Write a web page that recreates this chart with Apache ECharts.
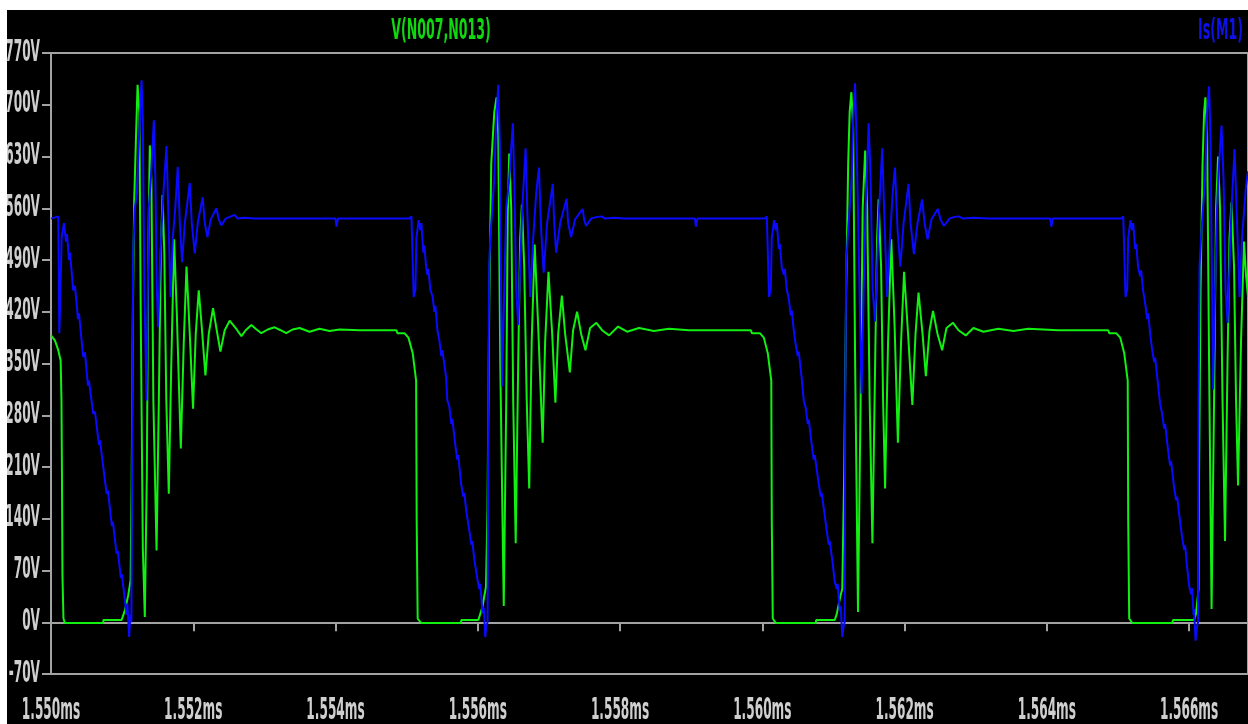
<!DOCTYPE html>
<html>
<head>
<meta charset="utf-8">
<script src="https://cdn.jsdelivr.net/npm/echarts@6/dist/echarts.min.js"></script>
<style>
  html, body { margin: 0; padding: 0; background: #ffffff; width: 1248px; height: 724px; overflow: hidden; }
  #chart { position: absolute; left: 7px; top: 10px; width: 1241px; height: 714px; }
</style>
</head>
<body>
<div id="chart"></div>
<script>
// Trace names
const traceNames = ['V(N007,N013)', 'Is(M1)'];

// Axis ticks (time in microseconds, voltage in volts) and their labels
const xTickValues = [1550, 1552, 1554, 1556, 1558, 1560, 1562, 1564, 1566];
const xTickLabels = ['1.550ms', '1.552ms', '1.554ms', '1.556ms', '1.558ms', '1.560ms', '1.562ms', '1.564ms', '1.566ms'];
const yTickValues = [-70, 0, 70, 140, 210, 280, 350, 420, 490, 560, 630, 700, 770];
const yTickLabels = ['-70V', '0V', '70V', '140V', '210V', '280V', '350V', '420V', '490V', '560V', '630V', '700V', '770V'];

// V(N007,N013): time (us) and value (V)
const vNodeTime = [
  1550.000, 1550.056, 1550.102, 1550.136, 1550.147, 1550.154, 1550.161, 1550.175, 1550.196, 1550.734,
  1550.737, 1550.992, 1551.039, 1551.085, 1551.119, 1551.133, 1551.151, 1551.169, 1551.193, 1551.217,
  1551.242, 1551.263, 1551.291, 1551.319, 1551.347, 1551.368, 1551.389, 1551.411, 1551.439, 1551.484,
  1551.516, 1551.544, 1551.568, 1551.593, 1551.621, 1551.656, 1551.691, 1551.731, 1551.768, 1551.825,
  1551.867, 1551.905, 1551.951, 1551.997, 1552.035, 1552.077, 1552.119, 1552.171, 1552.218, 1552.278,
  1552.330, 1552.382, 1552.442, 1552.512, 1552.596, 1552.677, 1552.737, 1552.817, 1552.877, 1552.957,
  1553.046, 1553.144, 1553.228, 1553.308, 1553.396, 1553.495, 1553.635, 1553.775, 1553.916, 1554.056,
  1554.337, 1554.856, 1554.870, 1554.968, 1555.025, 1555.085, 1555.133, 1555.141, 1555.155, 1555.203,
  1555.764, 1555.768, 1556.007, 1556.063, 1556.115,
  1556.136, 1556.161, 1556.189, 1556.232, 1556.264, 1556.288, 1556.316, 1556.365, 1556.400, 1556.421,
  1556.442, 1556.470, 1556.498, 1556.533, 1556.568, 1556.596, 1556.620, 1556.653, 1556.688, 1556.723,
  1556.758, 1556.800, 1556.849, 1556.912, 1556.947, 1556.994, 1557.046, 1557.091, 1557.130, 1557.182,
  1557.228, 1557.294, 1557.340, 1557.396, 1557.453, 1557.514, 1557.579, 1557.667, 1557.747, 1557.846,
  1557.972, 1558.098, 1558.267, 1558.477, 1558.688, 1558.968, 1559.839, 1559.853, 1559.965, 1560.021,
  1560.077, 1560.126, 1560.133, 1560.147, 1560.189, 1560.751, 1560.758, 1561.018, 1561.046, 1561.099,
  1561.124,
  1561.151, 1561.179, 1561.207, 1561.228, 1561.252, 1561.277, 1561.305, 1561.345, 1561.382, 1561.411,
  1561.446, 1561.474, 1561.509, 1561.548, 1561.586, 1561.614, 1561.635, 1561.670, 1561.698, 1561.726,
  1561.768, 1561.813, 1561.860, 1561.906, 1561.951, 1561.993, 1562.049, 1562.109, 1562.154, 1562.196,
  1562.253, 1562.299, 1562.351, 1562.400, 1562.463, 1562.528, 1562.589, 1562.681, 1562.758, 1562.860,
  1562.968, 1563.109, 1563.319, 1563.530, 1563.740, 1564.161, 1564.863, 1564.877, 1564.975, 1565.032,
  1565.088, 1565.137, 1565.144, 1565.158, 1565.200, 1565.761, 1565.775, 1566.070, 1566.098, 1566.133,
  1566.140, 1566.161, 1566.189, 1566.211, 1566.229, 1566.253, 1566.281, 1566.316, 1566.351, 1566.379,
  1566.407, 1566.435, 1566.470, 1566.505, 1566.540, 1566.568, 1566.596, 1566.632, 1566.660, 1566.688,
  1566.730, 1566.772, 1566.800, 1566.828
];
const vNodeVolt = [
  388, 381, 368, 354, 300, 200, 64, 5, -1, -1,
  3, 3, 16, 36, 57, 180, 420, 568, 650, 727,
  690, 400, 100, 7, 200, 500, 645, 600, 300, 97,
  300, 500, 578, 500, 300, 174, 350, 518, 420, 235,
  380, 481, 390, 289, 390, 449, 400, 334, 390, 425,
  395, 366, 395, 408, 398, 387, 395, 402, 397, 391,
  396, 399, 395, 391, 396, 398, 393, 397, 394, 396,
  395, 395, 391, 391, 385, 364, 327, 138, 5, -1,
  -1, 3, 3, 20, 48,
  150, 430, 620, 690, 710, 660, 350, 22, 300, 550,
  634, 560, 300, 107, 350, 520, 565, 480, 300, 181,
  380, 511, 400, 243, 380, 474, 390, 297, 390, 442,
  390, 338, 395, 420, 390, 368, 398, 405, 395, 388,
  400, 393, 398, 394, 397, 395, 395, 391, 391, 385,
  364, 327, 138, 5, -1, -1, 3, 3, 11, 36,
  45,
  200, 450, 620, 690, 717, 670, 350, 14, 300, 560,
  638, 560, 300, 107, 350, 520, 572, 480, 300, 181,
  380, 518, 400, 243, 380, 474, 390, 294, 390, 446,
  390, 333, 395, 421, 390, 368, 398, 405, 395, 388,
  398, 393, 397, 394, 397, 395, 395, 391, 391, 385,
  364, 327, 138, 5, -1, -1, 3, 3, 12, 45,
  200, 450, 620, 690, 710, 660, 350, 18, 300, 560,
  630, 560, 300, 110, 350, 520, 568, 480, 300, 185,
  380, 515, 470, 440
];

// Is(M1): time (us) and value
const isTime = [
  1550.000, 1550.102, 1550.112, 1550.116, 1550.126, 1550.150, 1550.182, 1550.211, 1550.225, 1550.253,
  1550.267, 1550.313, 1550.337, 1550.379, 1550.393, 1550.453, 1550.477, 1550.519, 1550.533, 1550.594,
  1550.618, 1550.674, 1550.688, 1550.782, 1550.800, 1550.856, 1550.870, 1550.922, 1550.940, 1550.982,
  1550.996, 1551.039, 1551.060, 1551.074, 1551.099, 1551.116, 1551.130, 1551.144, 1551.155, 1551.179,
  1551.207, 1551.235, 1551.273, 1551.291, 1551.312, 1551.343, 1551.361, 1551.375, 1551.404, 1551.446,
  1551.467, 1551.488, 1551.506, 1551.530, 1551.558, 1551.586, 1551.624, 1551.642, 1551.680, 1551.712,
  1551.747, 1551.782, 1551.811, 1551.843, 1551.881, 1551.951, 1551.979, 1552.021, 1552.063, 1552.133,
  1552.161, 1552.199, 1552.246, 1552.326, 1552.358, 1552.396, 1552.456, 1552.582, 1552.625, 1552.723,
  1552.863, 1554.000, 1554.014, 1554.035, 1555.039, 1555.067, 1555.095, 1555.099, 1555.123, 1555.137,
  1555.169, 1555.193, 1555.207, 1555.235, 1555.249, 1555.273, 1555.291, 1555.305, 1555.333, 1555.366,
  1555.389, 1555.404, 1555.432, 1555.460, 1555.488, 1555.502, 1555.554, 1555.572, 1555.600, 1555.628,
  1555.642, 1555.684, 1555.712, 1555.726, 1555.764, 1555.796, 1555.811, 1555.839, 1555.881, 1555.909,
  1555.923, 1555.951, 1555.997, 1556.021, 1556.035, 1556.067, 1556.084, 1556.105, 1556.119, 1556.138,
  1556.147, 1556.161, 1556.175, 1556.204, 1556.232, 1556.260, 1556.288, 1556.309, 1556.340, 1556.372,
  1556.400, 1556.442, 1556.493, 1556.512, 1556.540, 1556.568, 1556.596, 1556.625, 1556.672, 1556.695,
  1556.737, 1556.779, 1556.821, 1556.860, 1556.891, 1556.926, 1556.975, 1557.054, 1557.074, 1557.102,
  1557.158, 1557.249, 1557.270, 1557.312, 1557.368, 1557.474, 1557.495, 1557.523, 1557.593, 1557.663,
  1557.743, 1557.789, 1557.916, 1558.056, 1559.053, 1559.067, 1559.088, 1560.035, 1560.063, 1560.091,
  1560.095, 1560.119, 1560.133, 1560.166,
  1560.189, 1560.204, 1560.232, 1560.246, 1560.274, 1560.302, 1560.316, 1560.344, 1560.372, 1560.400,
  1560.414, 1560.442, 1560.470, 1560.498, 1560.512, 1560.554, 1560.582, 1560.611, 1560.639, 1560.653,
  1560.695, 1560.723, 1560.737, 1560.793, 1560.821, 1560.835, 1560.877, 1560.905, 1560.933, 1560.947,
  1560.989, 1561.018, 1561.046, 1561.060, 1561.088, 1561.102, 1561.124, 1561.144, 1561.158, 1561.165,
  1561.179, 1561.200, 1561.228, 1561.256, 1561.277, 1561.304, 1561.326, 1561.395, 1561.425, 1561.453,
  1561.495, 1561.523, 1561.551, 1561.585, 1561.614, 1561.642, 1561.686, 1561.712, 1561.754, 1561.796,
  1561.832, 1561.865, 1561.902, 1561.941, 1561.986, 1562.056, 1562.084, 1562.131, 1562.182, 1562.247,
  1562.281, 1562.323, 1562.379, 1562.467, 1562.505, 1562.554, 1562.632, 1562.688, 1562.758, 1562.828,
  1562.968, 1563.179, 1564.049, 1564.063, 1564.084, 1565.046, 1565.074, 1565.102, 1565.106, 1565.130,
  1565.144, 1565.176,
  1565.200, 1565.214, 1565.242, 1565.256, 1565.284, 1565.312, 1565.326, 1565.354, 1565.382, 1565.411,
  1565.425, 1565.453, 1565.481, 1565.509, 1565.523, 1565.565, 1565.593, 1565.621, 1565.649, 1565.663,
  1565.705, 1565.733, 1565.747, 1565.789, 1565.818, 1565.832, 1565.874, 1565.902, 1565.930, 1565.944,
  1565.972, 1566.000, 1566.028, 1566.042, 1566.063, 1566.070, 1566.091, 1566.112, 1566.126, 1566.133,
  1566.147, 1566.168, 1566.196, 1566.225, 1566.253, 1566.281, 1566.302, 1566.337, 1566.365, 1566.393,
  1566.421, 1566.456, 1566.484, 1566.512, 1566.540, 1566.568, 1566.596, 1566.639, 1566.667, 1566.709,
  1566.744, 1566.800, 1566.828
];
const isValue = [
  546, 549, 460, 391, 420, 521, 540, 515, 525, 490,
  500, 449, 455, 410, 418, 359, 365, 320, 327, 282,
  285, 240, 246, 174, 178, 130, 136, 93, 96, 60,
  65, 30, 10, 25, -20, 10, 0, 300, 500, 560,
  580, 650, 733, 680, 450, 300, 450, 561, 600, 679,
  600, 450, 399, 480, 540, 590, 644, 580, 440, 520,
  560, 616, 540, 487, 540, 594, 540, 499, 540, 575,
  540, 521, 545, 560, 545, 537, 546, 551, 546, 547,
  546, 546, 535, 546, 546, 549, 548, 440, 450, 520,
  544, 530, 540, 500, 510, 481, 470, 478, 450, 440,
  420, 428, 395, 381, 360, 368, 332, 300, 292, 268,
  275, 240, 220, 226, 188, 170, 175, 150, 124, 105,
  110, 85, 57, 45, 52, 12, 20, -20, -5, 0,
  300, 480, 520, 560, 600, 680, 727, 650, 319, 450,
  560, 600, 675, 600, 450, 402, 480, 560, 641, 560,
  440, 520, 580, 615, 530, 473, 540, 593, 540, 500,
  540, 573, 540, 521, 545, 559, 545, 536, 546, 548,
  549, 546, 547, 546, 546, 535, 546, 546, 549, 548,
  440, 450, 520, 544,
  530, 540, 505, 512, 480, 470, 478, 450, 438, 415,
  422, 395, 375, 360, 366, 330, 300, 290, 268, 274,
  240, 220, 226, 188, 170, 175, 145, 124, 105, 110,
  80, 55, 45, 52, 15, 22, -20, -5, 0, 300,
  480, 520, 560, 600, 680, 729, 650, 309, 450, 560,
  675, 600, 450, 407, 480, 560, 641, 560, 440, 520,
  580, 615, 530, 481, 540, 593, 540, 498, 540, 572,
  540, 518, 545, 559, 545, 536, 546, 548, 549, 546,
  547, 546, 546, 535, 546, 546, 549, 548, 440, 450,
  520, 544,
  530, 540, 505, 512, 480, 468, 476, 448, 432, 410,
  418, 390, 368, 352, 358, 320, 295, 282, 262, 268,
  232, 212, 218, 182, 165, 170, 135, 115, 98, 104,
  75, 50, 38, 46, 10, 18, -25, -5, 0, 300,
  480, 520, 560, 600, 690, 725, 650, 315, 450, 560,
  620, 672, 600, 450, 405, 480, 560, 640, 560, 440,
  520, 590, 610
];

const zip = (t, v) => t.map((x, i) => [x, v[i]]);

const AXIS_COLOR = '#a3a3a3';
const LABEL_COLOR = '#cfcfcf';
const LABEL_FONT = 'bold 13.5px "DejaVu Sans Condensed", "Liberation Sans Narrow", sans-serif';
const TITLE_FONT = 'bold 14px "DejaVu Sans Condensed", "Liberation Sans Narrow", sans-serif';
const LABEL_STRETCH = 2.2;
const TITLE_STRETCH = 2.0;

const chart = echarts.init(document.getElementById('chart'), null, { renderer: 'canvas' });

chart.setOption({
  animation: false,
  backgroundColor: '#000000',
  grid: {
    left: 44, top: 43, right: -2, bottom: 50,
    show: true, borderColor: AXIS_COLOR, borderWidth: 2, backgroundColor: 'transparent'
  },
  xAxis: {
    type: 'value', min: 1550, max: 1566.828, interval: 2,
    axisLine: { show: true, lineStyle: { color: AXIS_COLOR, width: 2 } },
    axisTick: { show: true, length: 9, lineStyle: { color: AXIS_COLOR, width: 2 } },
    axisLabel: { show: false },
    splitLine: { show: false }
  },
  yAxis: {
    type: 'value', min: -70, max: 770, interval: 70,
    axisLine: { show: true, lineStyle: { color: AXIS_COLOR, width: 2 } },
    axisTick: { show: true, length: 9, lineStyle: { color: AXIS_COLOR, width: 2 } },
    axisLabel: { show: false },
    splitLine: { show: false }
  },
  series: [
    {
      name: traceNames[0], type: 'line', data: zip(vNodeTime, vNodeVolt),
      showSymbol: false, sampling: null, clip: true,
      lineStyle: { color: '#12f012', width: 2 }, z: 2
    },
    {
      name: traceNames[1], type: 'line', data: zip(isTime, isValue),
      showSymbol: false, sampling: null, clip: true,
      lineStyle: { color: '#0a0aff', width: 2 }, z: 3
    }
  ]
});

// Tall condensed lettering for ticks and trace names
function tallText(text, x, y, align, fill, font, stretch) {
  return {
    type: 'text', x: x, y: y, scaleY: stretch, silent: true, z: 100,
    style: {
      text: text, fill: fill, font: font,
      align: align, textAlign: align,
      verticalAlign: 'middle', textVerticalAlign: 'middle'
    }
  };
}

const elements = [];
xTickValues.forEach((v, i) => {
  const p = chart.convertToPixel({ gridIndex: 0 }, [v, -70]);
  elements.push(tallText(xTickLabels[i], p[0], p[1] + 37, 'center', LABEL_COLOR, LABEL_FONT, LABEL_STRETCH));
});
yTickValues.forEach((v, i) => {
  const p = chart.convertToPixel({ gridIndex: 0 }, [1550, v]);
  elements.push(tallText(yTickLabels[i], p[0] - 11, p[1], 'right', LABEL_COLOR, LABEL_FONT, LABEL_STRETCH));
});
elements.push(tallText(traceNames[0], 434, 22, 'center', '#10d810', TITLE_FONT, TITLE_STRETCH));
elements.push(tallText(traceNames[1], 1236, 22, 'right', '#1010e8', TITLE_FONT, TITLE_STRETCH));

chart.setOption({ graphic: { elements: elements } });
</script>
</body>
</html>
